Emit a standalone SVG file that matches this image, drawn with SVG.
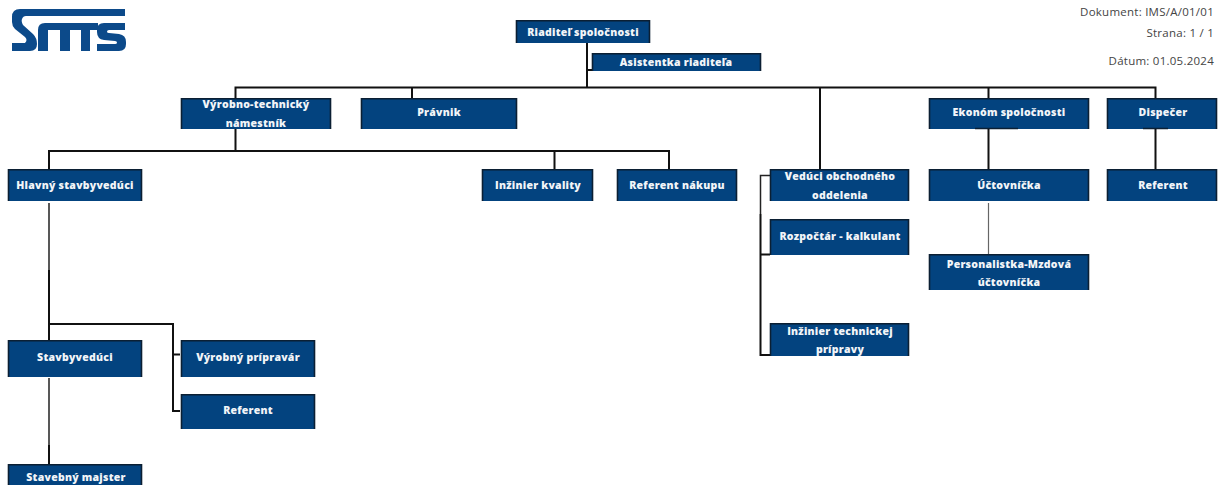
<svg xmlns="http://www.w3.org/2000/svg" width="1219" height="485" viewBox="0 0 1219 485">
<style>
.b{fill:#03437f;stroke:none}
.e{fill:none;stroke:#0b1f33;stroke-width:1.6}
.t{font-family:"Open Sans","Liberation Sans",sans-serif;font-weight:800;font-size:10.5px;letter-spacing:.25px;fill:#f2f5f8;text-anchor:middle}
.d{font-family:"Open Sans","Liberation Sans",sans-serif;font-size:11.5px;fill:#444;text-anchor:end;letter-spacing:.25px}
.c{fill:none;stroke:#111;stroke-width:2}
.c2{fill:none;stroke:#222;stroke-width:1.500}
.l{fill:#0c4a8a}
</style>
<g id="logo" class="l">
<path d="M125 9H20Q12 9 12 17V22Q12 26 15 29L25 37Q28 40 25 43H12V51H30Q37 51 37 44Q37 38 33 34L23 25Q21 21 22 19Q23 16 26 16H125Z"/>
<path d="M38 51V30Q38 23 45 23H98V30H90V51H81V30H70V51H60V30H48V51Z"/>
<path d="M125 23V30H109Q107 30 107 31.500Q107 33 109 33L119 34Q126 35 126 42V44Q126 51 119 51H97V44H115Q117 44 117 42.500Q117 41 115 41L104 40Q97 39 97 32V30Q97 23 104 23Z"/>
</g>
<g id="connectors">
<path class="c" d="M587 43V87.500M587 70H592M235.500 98V87.500H1155.500V98M412 87.500V98M820 87.500V169M988.500 87.500V98M988.500 129V169M1155.500 129V169"/>
<path class="c" d="M235.500 129V151M49 169V151H669V169M554.500 151V169"/>
<path class="c" d="M49 270V340M49 324H173V411H180M173 354.500H180"/>
<path class="c" d="M49 445V464M760.500 214V355H770M760.500 254.500H770"/>
<path class="c2" d="M49 203V270M49 378V445M770 175.500H760.500V214"/>
<path fill="none" stroke="#666" stroke-width="1.200" d="M988.500 203V254"/>
</g>
<g id="n1"><rect class="b" x="516" y="20" width="134" height="23"/><path class="e" d="M516.500 43V20.800H649.500V43"/><text class="t" x="583" y="35.500">Riaditeľ spoločnosti</text></g>
<g id="n2"><rect class="b" x="592" y="53" width="169" height="18"/><path class="e" d="M592.500 71V53.800H760.500V71"/><text class="t" x="676" y="66">Asistentka riaditeľa</text></g>
<g id="n3"><rect class="b" x="181" y="98" width="150" height="31"/><path class="e" d="M181.500 129V98.800H330.500V129"/><text class="t" x="256" y="108">Výrobno-technický</text><text class="t" x="256" y="127">námestník</text></g>
<g id="n4"><rect class="b" x="361" y="98" width="156" height="31"/><path class="e" d="M361.500 129V98.800H516.500V129"/><text class="t" x="439" y="116">Právnik</text></g>
<g id="n5"><rect class="b" x="929" y="98" width="160" height="31"/><path class="e" d="M929.500 129V98.800H1088.500V129M975 128.500H1018"/><text class="t" x="1009" y="116">Ekonóm spoločnosti</text></g>
<g id="n6"><rect class="b" x="1107" y="98" width="110" height="31"/><path class="e" d="M1107.500 129V98.800H1216.500V129M1143 128.500H1168"/><text class="t" x="1163" y="116">Dispečer</text></g>
<g id="n7"><rect class="b" x="8" y="169" width="134" height="32"/><path class="e" d="M8.500 201V169.800H141.500V201"/><text class="t" x="75" y="189">Hlavný stavbyvedúci</text></g>
<g id="n8"><rect class="b" x="482" y="169" width="111" height="32"/><path class="e" d="M482.500 201V169.800H592.500V201"/><text class="t" x="538" y="189">Inžinier kvality</text></g>
<g id="n9"><rect class="b" x="617" y="169" width="120" height="32"/><path class="e" d="M617.500 201V169.800H736.500V201"/><text class="t" x="677" y="189">Referent nákupu</text></g>
<g id="n10"><rect class="b" x="770" y="169" width="139" height="32"/><path class="e" d="M770.500 201V169.800H908.500V201"/><text class="t" x="840" y="180">Vedúci obchodného</text><text class="t" x="840" y="199">oddelenia</text></g>
<g id="n11"><rect class="b" x="929" y="169" width="160" height="32"/><path class="e" d="M929.500 201V169.800H1088.500V201"/><text class="t" x="1009" y="189">Účtovníčka</text></g>
<g id="n12"><rect class="b" x="1107" y="169" width="110" height="32"/><path class="e" d="M1107.500 201V169.800H1216.500V201"/><text class="t" x="1163" y="189">Referent</text></g>
<g id="n13"><rect class="b" x="770" y="219" width="139" height="36"/><path class="e" d="M770.500 255V219.800H908.500V255"/><text class="t" x="840" y="240">Rozpočtár - kalkulant</text></g>
<g id="n14"><rect class="b" x="929" y="254" width="160" height="36"/><path class="e" d="M929.500 290V254.800H1088.500V290"/><text class="t" x="1009" y="268">Personalistka-Mzdová</text><text class="t" x="1009" y="286">účtovníčka</text></g>
<g id="n15"><rect class="b" x="770" y="323" width="139" height="33"/><path class="e" d="M770.500 356V323.800H908.500V356"/><text class="t" x="840" y="335">Inžinier technickej</text><text class="t" x="840" y="353">prípravy</text></g>
<g id="n16"><rect class="b" x="8" y="340" width="134" height="37"/><path class="e" d="M8.500 377V340.800H141.500V377"/><text class="t" x="75" y="361">Stavbyvedúci</text></g>
<g id="n17"><rect class="b" x="181" y="340" width="134" height="37"/><path class="e" d="M181.500 377V340.800H314.500V377"/><text class="t" x="248" y="361">Výrobný prípravár</text></g>
<g id="n18"><rect class="b" x="181" y="394" width="134" height="35"/><path class="e" d="M181.500 429V394.800H314.500V429"/><text class="t" x="248" y="414">Referent</text></g>
<g id="n19"><rect class="b" x="8" y="464" width="134" height="21"/><path class="e" d="M8.500 485V464.800H141.500V485"/><text class="t" x="76" y="481">Stavebný majster</text></g>
<g id="meta"><text class="d" x="1214" y="16">Dokument: IMS/A/01/01</text><text class="d" x="1214" y="37">Strana: 1 / 1</text><text class="d" x="1214" y="65">Dátum: 01.05.2024</text></g>
</svg>
